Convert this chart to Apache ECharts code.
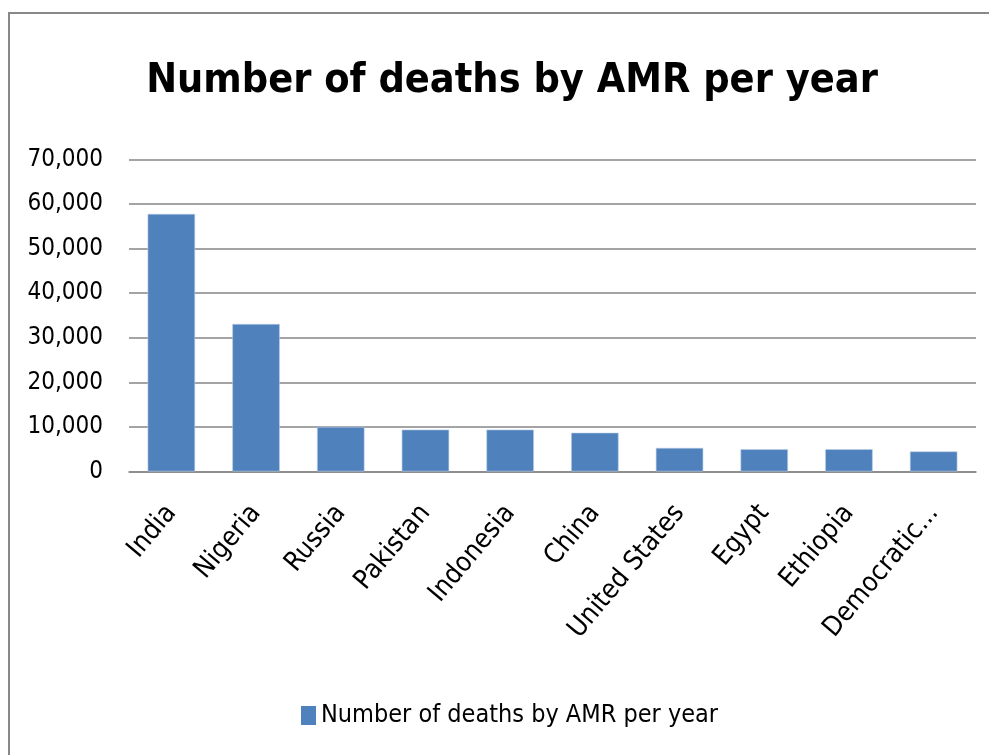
<!DOCTYPE html>
<html>
<head>
<meta charset="utf-8">
<script src="https://cdn.jsdelivr.net/npm/echarts@6/dist/echarts.min.js"></script>
<style>
  html, body { margin: 0; padding: 0; background: #fff; }
  #main { width: 989px; height: 755px; }
</style>
</head>
<body>
<div id="main"></div>
<script>
// data
var countries = ['India', 'Nigeria', 'Russia', 'Pakistan', 'Indonesia', 'China', 'United States', 'Egypt', 'Ethiopia', 'Democratic...'];
var deaths = [57800, 33100, 10000, 9400, 9400, 8700, 5300, 5000, 5000, 4500];
var seriesName = 'Number of deaths by AMR per year';

var font = '"DejaVu Sans Condensed", "Liberation Sans Narrow", "Liberation Sans", Arial, sans-serif';

var myChart = echarts.init(document.getElementById('main'));
var option = {
    backgroundColor: '#fff',
    animation: false,
    title: {
        text: 'Number of deaths by AMR per year',
        left: 507,
        textAlign: 'center',
        top: 56,
        textStyle: { fontFamily: font, fontWeight: 'bold', fontSize: 41, color: '#000' }
    },
    // outer chart frame
    graphic: [{
        type: 'rect',
        shape: { x: 9, y: 13, width: 1000, height: 800 },
        style: { fill: 'none', stroke: '#888', lineWidth: 2 }
    }],
    legend: {
        bottom: 22,
        left: 296,
        icon: 'rect',
        itemWidth: 15,
        itemHeight: 19,
        itemGap: 8,
        itemStyle: { borderWidth: 0 },
        textStyle: { fontFamily: font, fontSize: 25, color: '#000' },
        data: [seriesName]
    },
    grid: { left: 129, right: 13, top: 159.5, bottom: 283.5 },
    xAxis: {
        type: 'category',
        data: countries,
        axisLine: { lineStyle: { color: '#868686', width: 1.5 } },
        axisTick: { show: false },
        axisLabel: { rotate: 50, margin: 37, interval: 0, fontFamily: font, fontSize: 27, color: '#000' }
    },
    yAxis: {
        type: 'value',
        min: 0,
        max: 70000,
        interval: 10000,
        axisLine: { show: false },
        axisTick: { show: false },
        splitLine: { lineStyle: { color: '#868686', width: 1.5 } },
        axisLabel: {
            margin: 26,
            fontFamily: font, fontSize: 24, color: '#000',
            formatter: function (v) { return v.toLocaleString('en-US'); }
        }
    },
    series: [{
        name: seriesName,
        type: 'bar',
        barWidth: '56%',
        itemStyle: { color: '#4F81BD', borderColor: '#B9CDE5', borderWidth: 0.6 },
        data: deaths
    }]
};
myChart.setOption(option);
</script>
</body>
</html>
